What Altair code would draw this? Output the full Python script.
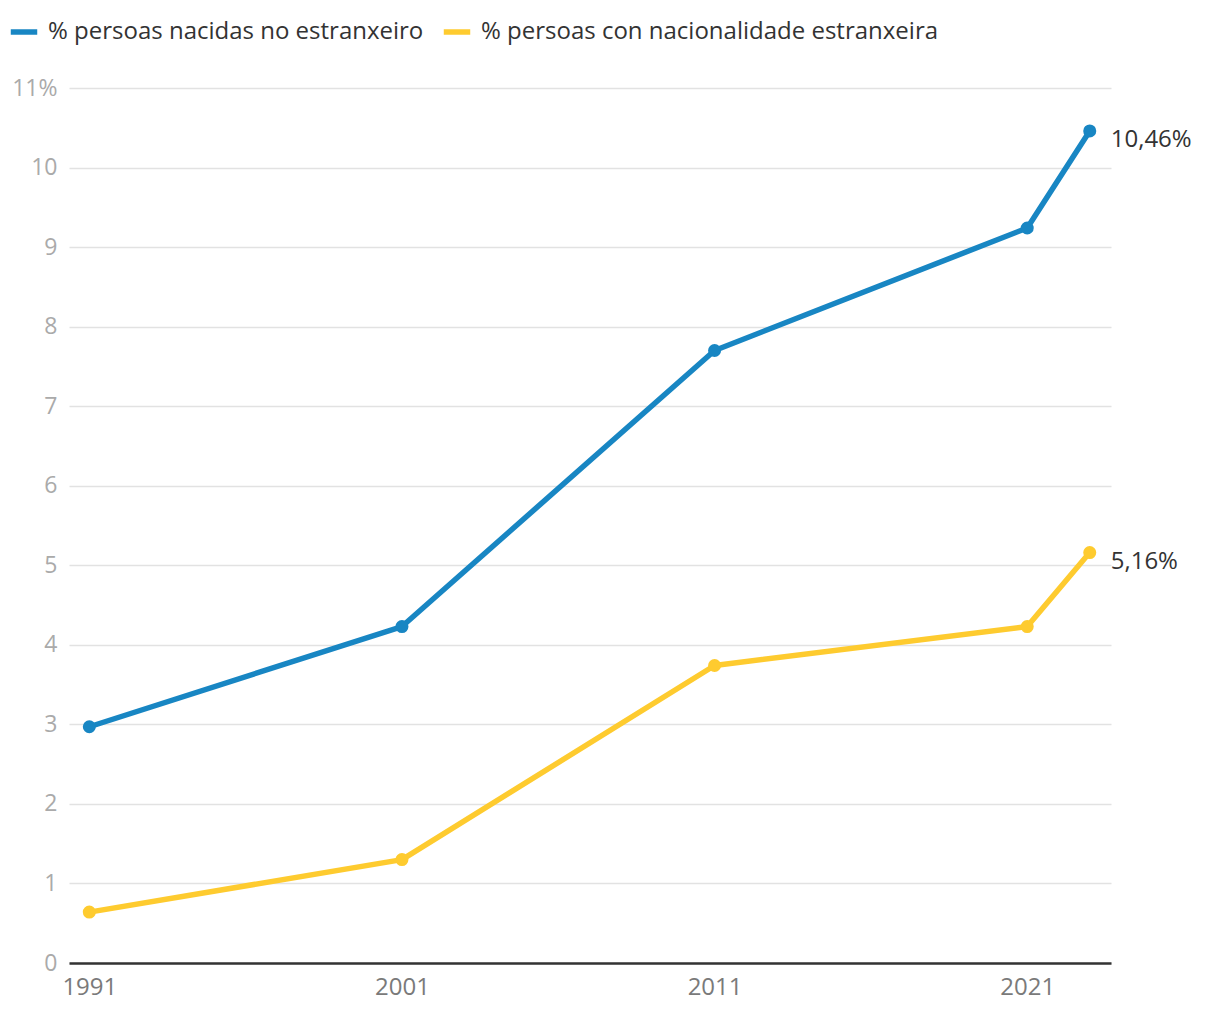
import altair as alt
import pandas as pd

years = [1991, 2001, 2011, 2021, 2023]
series_names = ["% persoas nacidas no estranxeiro", "% persoas con nacionalidade estranxeira"]
born_abroad = [2.97, 4.23, 7.70, 9.24, 10.46]
foreign_nat = [0.64, 1.30, 3.74, 4.23, 5.16]
end_labels = ["10,46%", "5,16%"]
x_ticks = [1991, 2001, 2011, 2021]
y_ticks = list(range(12))
colors = ["#1886c3", "#fecb2f"]

rows = []
for name, vals, lab in zip(series_names, [born_abroad, foreign_nat], end_labels):
    for i, (yr, v) in enumerate(zip(years, vals)):
        rows.append({"year": yr, "value": v, "serie": name,
                     "label": lab if i == len(years) - 1 else ""})
df = pd.DataFrame(rows)

FONT = "Open Sans"
FS = 24

x = alt.X("year:Q",
          scale=alt.Scale(domain=[1990.35, 2023.68], nice=False, zero=False),
          axis=alt.Axis(values=x_ticks, format="d", grid=False, ticks=False,
                        domain=True, domainColor="#333333", domainWidth=2.5,
                        labelColor="#7a7a7a", labelFontSize=FS, labelPadding=12,
                        labelFont=FONT, title=None))
y = alt.Y("value:Q",
          scale=alt.Scale(domain=[0, 11], nice=False),
          axis=alt.Axis(values=y_ticks, grid=True, gridColor="#e2e2e2", gridWidth=1.5,
                        domain=False, ticks=False, labelColor="#aaaaaa",
                        labelFontSize=FS - 1, labelPadding=12, labelFont=FONT,
                        labelExpr="datum.value == 11 ? '11%\u00a0\u200a' : datum.label",
                        title=None))
color = alt.Color("serie:N",
                  scale=alt.Scale(domain=series_names, range=colors),
                  legend=alt.Legend(orient="none", legendX=-61, legendY=-72,
                                    direction="horizontal", title=None,
                                    symbolType="stroke", symbolStrokeWidth=5.5,
                                    symbolSize=700, labelFontSize=FS,
                                    labelColor="#333333", labelFont=FONT,
                                    labelOffset=8, columnPadding=8,
                                    labelLimit=0))

base = alt.Chart(df).encode(x=x, y=y, color=color)

lines = base.mark_line(strokeWidth=5.5, strokeCap="round", strokeJoin="round")
points = base.mark_point(filled=True, size=170, opacity=1)
texts = base.transform_filter(alt.datum.label != "").mark_text(
    align="left", baseline="middle", dx=21, dy=9, fontSize=FS, font=FONT,
    color="#333333").encode(text="label:N", color=alt.value("#333333"))

chart = alt.layer(lines, points, texts).properties(
    width=1042, height=875,
    autosize=alt.AutoSizeParams(type="none"),
    padding={"left": 61, "top": 80, "right": 101, "bottom": 49},
).configure(font=FONT).configure_view(stroke=None)

chart.save("out.html", embed_options={"renderer": "svg", "actions": False})
